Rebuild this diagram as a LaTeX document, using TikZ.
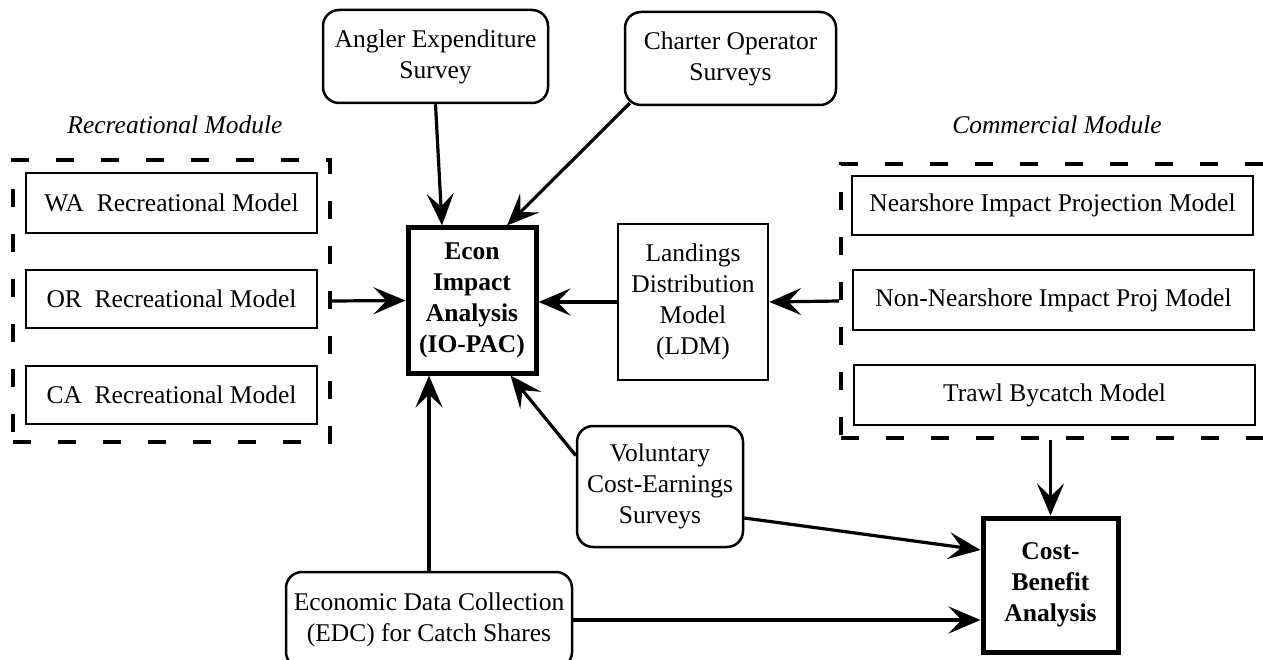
\documentclass[tikz,border=0pt]{standalone}
\usepackage{fontspec}
\setmainfont{Liberation Serif}
\usetikzlibrary{arrows.meta,calc}
\begin{document}
\begin{tikzpicture}[x=1pt,y=-1pt,
  every node/.style={font=\fontsize{25.5}{31}\selectfont, align=center, inner sep=0pt},
  plainbox/.style={draw, line width=2.5pt, rectangle},
  thickbox/.style={draw, line width=5pt, rectangle, font=\fontsize{25.5}{31}\selectfont\bfseries},
  roundbox/.style={draw, line width=2.5pt, rectangle, rounded corners=16pt},
  modbox/.style={draw, line width=4pt, dash pattern=on 18pt off 27pt, rectangle},
  modlabel/.style={font=\fontsize{25.5}{31}\selectfont\itshape},
  arr/.style={line width=3.2pt, -{Stealth[length=32pt,width=27pt,inset=13pt]}}
]
\useasboundingbox (0,0) rectangle (1263,660);

% Recreational module
\node[modbox, minimum width=317pt, minimum height=282pt] (rec) at (171.5,301) {};
\node[modlabel] (reclabel) at (175,125) {Recreational Module};
\node[plainbox, minimum width=291pt, minimum height=60pt] (wa) at (171.5,203) {WA~ Recreational Model};
\node[plainbox, minimum width=291pt, minimum height=58pt] (or) at (171.5,299) {OR~ Recreational Model};
\node[plainbox, minimum width=291pt, minimum height=58pt] (ca) at (171.5,395) {CA~ Recreational Model};

% Commercial module
\node[modbox, minimum width=434pt, minimum height=274pt] (com) at (1058,301) {};
\node[modlabel] (comlabel) at (1057,125) {Commercial Module};
\node[plainbox, minimum width=401pt, minimum height=59pt] (near) at (1052.5,205.5) {Nearshore Impact Projection Model};
\node[plainbox, minimum width=401pt, minimum height=60pt] (nonnear) at (1053.5,300) {Non-Nearshore Impact Proj Model};
\node[plainbox, minimum width=401pt, minimum height=60pt] (trawl) at (1054.5,395) {Trawl Bycatch Model};

% Surveys
\node[roundbox, minimum width=225pt, minimum height=93pt] (angler) at (435.5,56.5) {Angler Expenditure\\Survey};
\node[roundbox, minimum width=211pt, minimum height=93pt] (charter) at (730.5,58.5) {Charter Operator\\Surveys};
\node[roundbox, minimum width=166pt, minimum height=121pt] (vol) at (660,486.5) {Voluntary\\Cost-Earnings\\Surveys};
\node[roundbox, minimum width=286pt, minimum height=96pt] (edc) at (429,620) {Economic Data Collection\\(EDC) for Catch Shares};

% Core boxes
\node[thickbox, minimum width=128pt, minimum height=145pt] (econ) at (472,300.5) {Econ\\Impact\\Analysis\\(IO-PAC)};
\node[plainbox, minimum width=150pt, minimum height=156pt] (ldm) at (693,302) {Landings\\Distribution\\Model\\(LDM)};
\node[thickbox, minimum width=135pt, minimum height=134pt] (cba) at (1050.5,585) {Cost-\\Benefit\\Analysis};

% Connectors
\draw[arr] (angler.south) -- ($(econ.north)+(-30,0)$);
\draw[arr] ($(charter.south west)+(6,-3)$) -- ($(econ.north)+(35,0)$);
\draw[arr] (rec.east) -- (econ.west);
\draw[arr] (ldm.west) -- (econ.east |- ldm.west);
\draw[arr] (com.west) -- (ldm.east);
\draw[arr] ($(vol.west)+(0,-31)$) -- ($(econ.south east)+(-28,0)$);
\draw[arr] (edc.north) -- (edc.north |- econ.south);
\draw[arr] ($(vol.east)+(0,31.5)$) -- ($(cba.west)+(0,-35)$);
\draw[arr] (edc.east) -- (cba.west |- edc.east);
\draw[arr] (cba.north |- com.south) -- (cba.north);
\end{tikzpicture}
\end{document}
